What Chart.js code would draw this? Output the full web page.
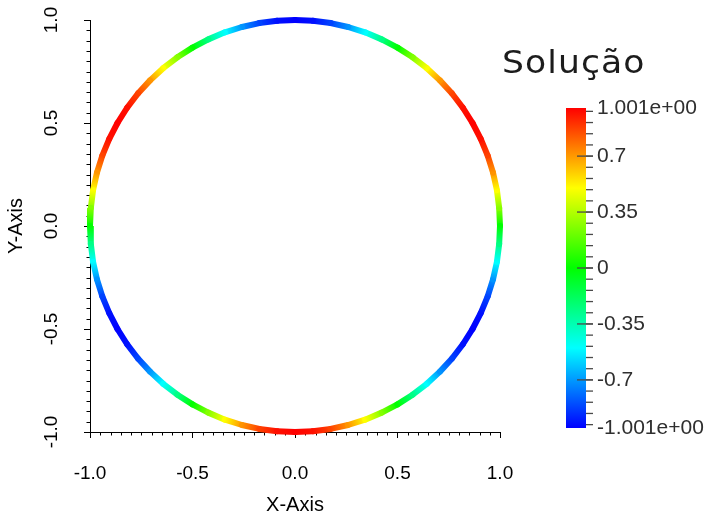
<!DOCTYPE html>
<html>
<head>
<meta charset="utf-8">
<script src="https://cdn.jsdelivr.net/npm/chart.js@4.4.1/dist/chart.umd.min.js"></script>
<style>
  html, body { margin: 0; padding: 0; background: #ffffff; }
  canvas { display: block; }
</style>
</head>
<body>
<canvas id="chart" width="713" height="516"></canvas>
<script>
// Sample points along the boundary curve (every 5 degrees, counter-clockwise from (1, 0))
const pointX = [
  1.000, 0.996, 0.985, 0.966, 0.940, 0.906, 0.866, 0.819, 0.766, 0.707, 0.643, 0.574,
  0.500, 0.423, 0.342, 0.259, 0.174, 0.087, 0.000, -0.087, -0.174, -0.259, -0.342, -0.423,
  -0.500, -0.574, -0.643, -0.707, -0.766, -0.819, -0.866, -0.906, -0.940, -0.966, -0.985, -0.996,
  -1.000, -0.996, -0.985, -0.966, -0.940, -0.906, -0.866, -0.819, -0.766, -0.707, -0.643, -0.574,
  -0.500, -0.423, -0.342, -0.259, -0.174, -0.087, 0.000, 0.087, 0.174, 0.259, 0.342, 0.423,
  0.500, 0.574, 0.643, 0.707, 0.766, 0.819, 0.866, 0.906, 0.940, 0.966, 0.985, 0.996, 1.000
];
const pointY = [
  0.000, 0.087, 0.174, 0.259, 0.342, 0.423, 0.500, 0.574, 0.643, 0.707, 0.766, 0.819,
  0.866, 0.906, 0.940, 0.966, 0.985, 0.996, 1.000, 0.996, 0.985, 0.966, 0.940, 0.906,
  0.866, 0.819, 0.766, 0.707, 0.643, 0.574, 0.500, 0.423, 0.342, 0.259, 0.174, 0.087,
  0.000, -0.087, -0.174, -0.259, -0.342, -0.423, -0.500, -0.574, -0.643, -0.707, -0.766, -0.819,
  -0.866, -0.906, -0.940, -0.966, -0.985, -0.996, -1.000, -0.996, -0.985, -0.966, -0.940, -0.906,
  -0.866, -0.819, -0.766, -0.707, -0.643, -0.574, -0.500, -0.423, -0.342, -0.259, -0.174, -0.087, 0.000
];
// Solution value at each sample point
const solution = [
  0.00, 0.26, 0.50, 0.71, 0.87, 0.97, 1.00, 0.97, 0.87, 0.71, 0.50, 0.26,
  0.00, -0.26, -0.50, -0.71, -0.87, -0.97, -1.00, -0.97, -0.87, -0.71, -0.50, -0.26,
  0.00, 0.26, 0.50, 0.71, 0.87, 0.97, 1.00, 0.97, 0.87, 0.71, 0.50, 0.26,
  0.00, -0.26, -0.50, -0.71, -0.87, -0.97, -1.00, -0.97, -0.87, -0.71, -0.50, -0.26,
  0.00, 0.26, 0.50, 0.71, 0.87, 0.97, 1.00, 0.97, 0.87, 0.71, 0.50, 0.26,
  0.00, -0.26, -0.50, -0.71, -0.87, -0.97, -1.00, -0.97, -0.87, -0.71, -0.50, -0.26, 0.00
];

const axisTickValues = [-1, -0.5, 0, 0.5, 1];
const axisTickLabels = ['-1.0', '-0.5', '0.0', '0.5', '1.0'];
const minorStep = 0.05;

const colorTitle = 'Solução';
const colorRange = [-1.001, 1.001];
const colorbarTickValues = [1.001, 0.7, 0.35, 0, -0.35, -0.7, -1.001];
const colorbarTickLabels = ['1.001e+00', '0.7', '0.35', '0', '-0.35', '-0.7', '-1.001e+00'];
const colorbarMinorStep = 0.07;

// Blue-to-red rainbow lookup
function colorFor(v) {
  const [lo, hi] = colorRange;
  const t = (Math.min(hi, Math.max(lo, v)) - lo) / (hi - lo);
  return 'hsl(' + (240 * (1 - t)).toFixed(2) + ',100%,50%)';
}

const AXIS_FONT = '"Liberation Sans", Arial, sans-serif';

// Minor tick marks on both axes
const minorTicks = {
  id: 'minorTicks',
  beforeDatasetsDraw(chart) {
    const xs = chart.scales.x, ys = chart.scales.y, c = chart.ctx;
    c.save();
    c.strokeStyle = '#000';
    c.lineWidth = 1;
    const n = Math.round(1 / minorStep);
    for (let k = -n; k <= n; k++) {
      if (k % 10 === 0) continue;
      const v = k * minorStep;
      const px = Math.round(xs.getPixelForValue(v)) + 0.5;
      c.beginPath(); c.moveTo(px, xs.top); c.lineTo(px, xs.top + 3.5); c.stroke();
      const py = Math.round(ys.getPixelForValue(v)) + 0.5;
      c.beginPath(); c.moveTo(ys.right, py); c.lineTo(ys.right - 3.5, py); c.stroke();
    }
    c.restore();
  }
};

// Scalar bar legend on the right
const colorbar = {
  id: 'colorbar',
  afterDraw(chart) {
    const c = chart.ctx;
    const left = 566, top = 108, w = 20, h = 320;
    const [lo, hi] = colorRange;
    const yFor = v => top + (hi - v) / (hi - lo) * h;
    c.save();
    const g = c.createLinearGradient(0, top + h, 0, top);
    for (let k = 0; k <= 12; k++) g.addColorStop(k / 12, colorFor(lo + (hi - lo) * k / 12));
    c.fillStyle = g;
    c.fillRect(left, top, w, h);

    c.strokeStyle = '#4a4a4a';
    c.lineWidth = 1.3;
    const m = Math.floor(hi / colorbarMinorStep + 1e-6);
    for (let k = -m; k <= m; k++) {
      const y = yFor(k * colorbarMinorStep);
      c.beginPath(); c.moveTo(left + w, y); c.lineTo(left + w + 7, y); c.stroke();
    }
    colorbarTickValues.forEach(v => {
      if (Math.abs(v) > 1) return;
      const y = yFor(v);
      c.beginPath(); c.moveTo(left + w - 9, y); c.lineTo(left + w + 7, y); c.stroke();
    });

    c.fillStyle = '#2f2f2f';
    c.font = '21px ' + AXIS_FONT;
    c.textAlign = 'left';
    c.textBaseline = 'middle';
    colorbarTickValues.forEach((v, i) => c.fillText(colorbarTickLabels[i], 597, yFor(v)));

    // Legend title, slightly widened
    c.fillStyle = '#1c1c1c';
    c.font = '32px "DejaVu Sans", sans-serif';
    c.textBaseline = 'alphabetic';
    if ('letterSpacing' in c) c.letterSpacing = '1px';
    c.translate(502, 73);
    c.scale(1.08, 1);
    c.fillText(colorTitle, 0, 0);
    c.restore();
  }
};

const segmentColor = ctx => {
  const c = ctx.chart.ctx;
  const g = c.createLinearGradient(ctx.p0.x, ctx.p0.y, ctx.p1.x, ctx.p1.y);
  const v0 = solution[ctx.p0DataIndex], v1 = solution[ctx.p1DataIndex];
  for (let k = 0; k <= 4; k++) g.addColorStop(k / 4, colorFor(v0 + (v1 - v0) * k / 4));
  return g;
};

function axisOptions(pos) {
  const isX = pos === 'bottom';
  return {
    type: 'linear',
    position: pos,
    min: -1,
    max: 1,
    afterBuildTicks: s => { s.ticks = axisTickValues.map(v => ({ value: v })); },
    afterFit: s => {
      if (isX) s.height = 84; else s.width = 90;
      s.paddingTop = 0; s.paddingBottom = 0; s.paddingLeft = 0; s.paddingRight = 0;
    },
    ticks: {
      callback: (v, i) => axisTickLabels[i],
      color: '#000',
      font: { family: AXIS_FONT, size: 19 },
      autoSkip: false,
      padding: isX ? 24 : 16,
      minRotation: isX ? 0 : 90,
      maxRotation: isX ? 0 : 90,
      crossAlign: isX ? 'near' : 'center'
    },
    grid: {
      drawOnChartArea: false,
      drawTicks: true,
      tickLength: 6,
      color: '#000',
      tickColor: '#000',
      lineWidth: 1
    },
    border: { display: true, color: '#000', width: 1 },
    title: {
      display: true,
      text: isX ? 'X-Axis' : 'Y-Axis',
      color: '#000',
      font: { family: AXIS_FONT, size: 20, lineHeight: 1.1 },
      padding: isX ? { top: 0, bottom: 0 } : { top: 5, bottom: 0 }
    }
  };
}

new Chart(document.getElementById('chart'), {
  type: 'scatter',
  data: {
    datasets: [{
      data: pointX.map((x, i) => ({ x: x, y: pointY[i] })),
      showLine: true,
      pointRadius: 0,
      pointHoverRadius: 0,
      borderWidth: 6,
      borderColor: colorFor(0),
      borderCapStyle: 'round',
      tension: 0,
      clip: false,
      segment: { borderColor: segmentColor }
    }]
  },
  options: {
    responsive: false,
    devicePixelRatio: 1,
    animation: false,
    events: [],
    layout: { padding: { top: 20, right: 213, bottom: 0, left: 0 } },
    plugins: {
      legend: { display: false },
      tooltip: { enabled: false },
      title: { display: false }
    },
    scales: {
      x: axisOptions('bottom'),
      y: axisOptions('left')
    }
  },
  plugins: [minorTicks, colorbar]
});
</script>
</body>
</html>
